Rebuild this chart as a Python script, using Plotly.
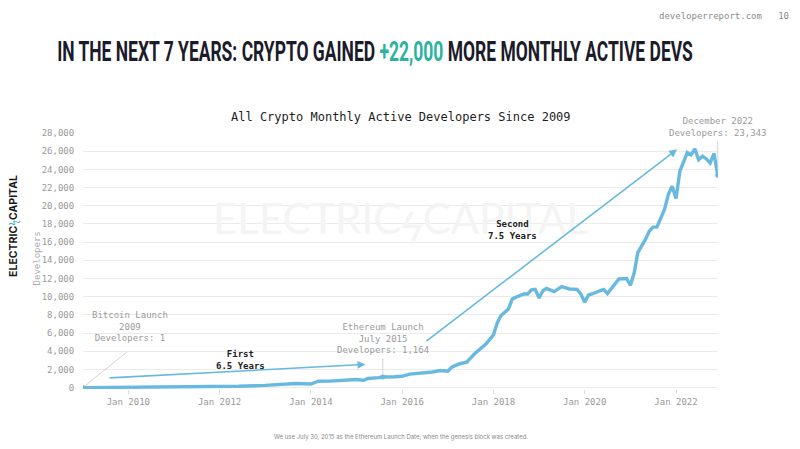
import plotly.graph_objects as go

# ---- data ----
dates = ["2009-01-03", "2009-06-01", "2010-01-01", "2010-06-01", "2011-01-01", "2011-06-01",
         "2012-01-01", "2012-06-01", "2013-01-01", "2013-04-01", "2013-07-01", "2013-09-01",
         "2014-01-01", "2014-03-01", "2014-06-01", "2014-09-01", "2015-01-01", "2015-03-01",
         "2015-04-01", "2015-07-01", "2015-07-30", "2015-11-01", "2016-01-01", "2016-03-01",
         "2016-06-01", "2016-09-01", "2016-11-01", "2017-01-01", "2017-02-01", "2017-04-01",
         "2017-06-01", "2017-08-01", "2017-11-01", "2018-01-01", "2018-02-01", "2018-03-01",
         "2018-05-01", "2018-06-01", "2018-07-01", "2018-09-01", "2018-10-01", "2018-11-01",
         "2018-12-01", "2019-01-01", "2019-02-01", "2019-03-01", "2019-05-01", "2019-06-01",
         "2019-07-01", "2019-09-01", "2019-11-01", "2019-12-01", "2020-01-01", "2020-02-01",
         "2020-03-01", "2020-05-01", "2020-06-01", "2020-07-01", "2020-08-01", "2020-10-01",
         "2020-12-01", "2021-01-01", "2021-02-01", "2021-03-01", "2021-05-01", "2021-06-01",
         "2021-07-01", "2021-08-01", "2021-10-01", "2021-11-01", "2021-12-01", "2022-01-01",
         "2022-02-01", "2022-03-01", "2022-04-01", "2022-05-01", "2022-06-01", "2022-07-01",
         "2022-08-01", "2022-09-01", "2022-10-01", "2022-11-01", "2022-12-01"]
developers = [1, 10, 20, 30, 40, 50,
              80, 150, 250, 330, 380, 450,
              400, 700, 720, 820, 900, 800,
              1000, 1100, 1164, 1200, 1250, 1480,
              1560, 1720, 1880, 1800, 2250, 2600,
              2800, 3700, 4800, 5800, 7150, 7900,
              8650, 9750, 9950, 10300, 10300, 10750,
              10800, 9850, 10650, 10900, 10550, 10850,
              11100, 10850, 10800, 10300, 9400, 10200,
              10300, 10650, 10800, 10350, 10850, 11950,
              12000, 11250, 12650, 14850, 16300, 17200,
              17650, 17650, 19600, 21250, 22150, 20800,
              23800, 24900, 25850, 25600, 26250, 25050,
              25450, 25150, 24700, 25750, 23343]

key_dates = ["2009-01-03", "2015-07-30", "2022-12-01"]
key_values = [1, 1164, 23343]

y_ticks = list(range(0, 28001, 2000))

BLUE = "#68b9df"
GRAY = "#9a9a9a"
MONO = "DejaVu Sans Mono, Liberation Mono, monospace"

fig = go.Figure()
fig.add_trace(go.Scatter(x=dates, y=developers, mode="lines",
                         line=dict(color=BLUE, width=3.4), hoverinfo="skip"))
fig.add_trace(go.Scatter(x=key_dates, y=key_values, mode="markers",
                         marker=dict(color=BLUE, size=5), hoverinfo="skip"))

ann = []
# header text (top right)
ann.append(dict(xref="paper", yref="paper", x=1.0, y=1.0, xshift=73, yshift=117,
                text="developerreport.com&nbsp;&nbsp;&nbsp;10", showarrow=False,
                xanchor="right", yanchor="middle",
                font=dict(family=MONO, size=9, color="#8a8a8a")))
# chart title
ann.append(dict(xref="paper", yref="paper", x=0.5, y=1.0, yshift=7,
                text="All Crypto Monthly Active Developers Since 2009", showarrow=False,
                xanchor="center", yanchor="bottom",
                font=dict(family=MONO, size=12, color="#1e1e1e")))
# left vertical logo
ann.append(dict(xref="paper", yref="paper", x=0, y=0.637, xshift=-69,
                text="<b>ELECTRIC</b><span style='color:#35b8c4'>ϟ</span><b>CAPITAL</b>", showarrow=False,
                textangle=-90, xanchor="center", yanchor="middle",
                font=dict(family="Inter, Noto Sans, sans-serif", size=10.5, color="#1a1a1a")))
# y-axis title
ann.append(dict(xref="paper", yref="paper", x=0, y=0.51, xshift=-46,
                text="Developers", showarrow=False,
                textangle=-90, xanchor="center", yanchor="middle",
                font=dict(family=MONO, size=9, color="#aaaaaa")))
# watermark
ann.append(dict(xref="paper", yref="paper", x=0.5, y=0.668,
                text="ELECTRICϟCAPITAL", showarrow=False,
                xanchor="center", yanchor="middle",
                font=dict(family="Lato, Noto Sans, sans-serif", size=42, color="#f4f4f4")))

# Bitcoin annotation
ann.append(dict(x="2010-01-15", y=6700, text="Bitcoin Launch<br>2009<br>Developers: 1",
                showarrow=False, xanchor="center", yanchor="middle",
                font=dict(family=MONO, size=9, color=GRAY)))
ann.append(dict(x="2009-01-20", y=200, ax="2010-01-01", ay=4050, axref="x", ayref="y",
                text="", showarrow=True, arrowhead=0, arrowwidth=0.8, arrowcolor="#c8c8c8"))
# Ethereum annotation
ann.append(dict(x="2015-07-30", y=5350, text="Ethereum Launch<br>July 2015<br>Developers: 1,164",
                showarrow=False, xanchor="center", yanchor="middle",
                font=dict(family=MONO, size=9, color=GRAY)))
ann.append(dict(x="2015-07-30", y=1350, ax="2015-07-30", ay=3400, axref="x", ayref="y",
                text="", showarrow=True, arrowhead=0, arrowwidth=0.8, arrowcolor="#c8c8c8"))
# December 2022 annotation
ann.append(dict(x="2022-12-01", xref="x", yref="paper", y=1.0, yshift=-7,
                text="December 2022<br>Developers: 23,343",
                showarrow=False, xanchor="center", yanchor="bottom",
                font=dict(family=MONO, size=9, color=GRAY)))
ann.append(dict(x="2022-12-01", y=23800, ax="2022-12-01", ay=27300, axref="x", ayref="y",
                text="", showarrow=True, arrowhead=0, arrowwidth=0.8, arrowcolor="#c8c8c8"))

# First 6.5 years
ann.append(dict(x="2012-06-15", y=3000, text="<b>First<br>6.5 Years</b>",
                showarrow=False, xanchor="center", yanchor="middle",
                font=dict(family=MONO, size=9, color="#222222")))
ann.append(dict(x="2015-03-14", y=2550, ax="2009-07-23", ay=1060, axref="x", ayref="y",
                text="", showarrow=True, arrowhead=2, arrowsize=1, arrowwidth=1.6, arrowcolor=BLUE))
# Second 7.5 years
ann.append(dict(x="2018-06-01", y=17300, text="<b>Second<br>7.5 Years</b>",
                showarrow=False, xanchor="center", yanchor="middle",
                font=dict(family=MONO, size=9, color="#222222")))
ann.append(dict(x="2022-01-10", y=26200, ax="2016-07-01", ay=5000, axref="x", ayref="y",
                text="", showarrow=True, arrowhead=2, arrowsize=1, arrowwidth=1.6, arrowcolor=BLUE))

# footnote
ann.append(dict(xref="paper", yref="paper", x=0.5, y=0, yshift=-48,
                text="We use July 30, 2015 as the Ethereum Launch Date, when the genesis block was created.",
                showarrow=False, xanchor="center", yanchor="middle",
                font=dict(family="Inter, Noto Sans, sans-serif", size=6, color="#8a8a8a")))

fig.update_layout(
    width=800, height=449,
    margin=dict(l=83, r=82, t=133, b=60),
    paper_bgcolor="white", plot_bgcolor="white",
    showlegend=False,
    annotations=ann,
    title=dict(text="IN THE NEXT 7 YEARS: CRYPTO GAINED <span style='color:#2bb39e'>+22,000</span> MORE MONTHLY ACTIVE DEVS",
               x=375 / 800, xanchor="center", y=1 - 51 / 449, yanchor="middle",
               font=dict(family="Roboto, DejaVu Sans, sans-serif",
                         size=28, color="#1b1b2b", weight="bold")),
    xaxis=dict(type="date", range=["2009-01-03", "2022-12-03"],
               tick0="2010-01-01", dtick="M24", tickformat="%b %Y",
               showgrid=False, zeroline=False, showline=False,
               ticks="outside", ticklen=4, tickcolor="#dddddd",
               tickfont=dict(family=MONO, size=9, color=GRAY)),
    yaxis=dict(range=[-150, 28000], tickvals=y_ticks, tickformat=",d",
               showgrid=True, gridcolor="#ebebeb", gridwidth=1, zeroline=False, showline=False,
               ticks="outside", ticklen=6, tickcolor="white",
               tickfont=dict(family=MONO, size=9, color=GRAY)),
)

post = """
document.body.style.margin = '0';
var gd = document.getElementById('{plot_id}');
function squashTitle() {
  var t = gd.querySelector('.gtitle');
  if (!t) return;
  t.removeAttribute('transform');
  var bb = t.getBBox();
  var target = 636;
  var s = target / bb.width;
  var cx = bb.x + bb.width / 2;
  t.setAttribute('transform', 'translate(' + cx + ',0) scale(' + s + ',1) translate(' + (-cx) + ',0)');
}
squashTitle();
gd.on('plotly_afterplot', squashTitle);
"""

fig.write_html("out.html", post_script=post, config={"displayModeBar": False})
